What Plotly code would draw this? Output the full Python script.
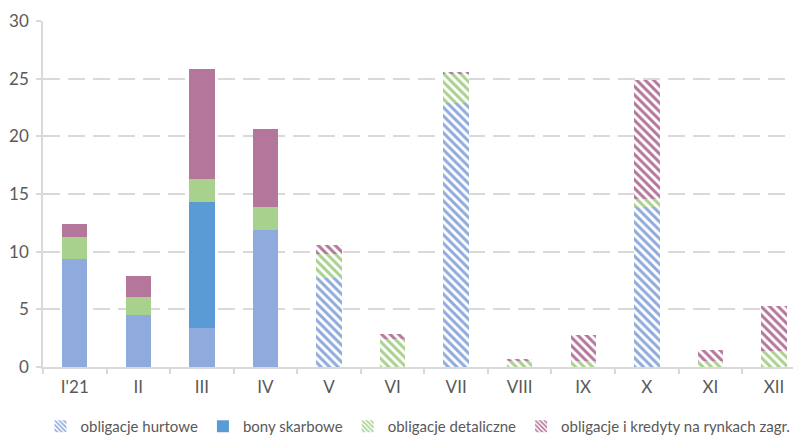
import plotly.graph_objects as go

months = ["I'21", "II", "III", "IV", "V", "VI", "VII", "VIII", "IX", "X", "XI", "XII"]
hurtowe = [9.35, 4.5, 3.4, 11.85, 7.7, 0, 22.9, 0, 0, 13.9, 0, 0]
bony = [0, 0, 10.95, 0, 0, 0, 0, 0, 0, 0, 0, 0]
detaliczne = [1.9, 1.6, 1.95, 2.0, 2.1, 2.4, 2.5, 0.55, 0.5, 0.7, 0.55, 1.4]
zagr = [1.15, 1.75, 9.5, 6.8, 0.8, 0.5, 0.2, 0.1, 2.3, 10.3, 0.95, 3.85]
forecast = [False, False, False, False, True, True, True, True, True, True, True, True]

series = [
    ("obligacje hurtowe", hurtowe, "#8FAADC", True),
    ("bony skarbowe", bony, "#5B9BD5", False),
    ("obligacje detaliczne", detaliczne, "#A9D18E", True),
    ("obligacje i kredyty na rynkach zagr.", zagr, "#B4769A", True),
]

shapes = ["\\" if f else "" for f in forecast]

fig = go.Figure()
for name, vals, col, hatch_legend in series:
    fig.add_trace(go.Bar(
        x=months, y=vals, name=name, showlegend=False,
        width=0.4,
        marker=dict(color=col, line=dict(width=0),
                    pattern=dict(shape=shapes, fgcolor=col, bgcolor="white",
                                 size=6, solidity=0.5, fillmode="replace")),
        hoverinfo="skip",
    ))
for name, vals, col, hatch_legend in series:
    fig.add_trace(go.Bar(
        x=[None], y=[None], name=name, showlegend=True,
        marker=dict(color=col, line=dict(width=0),
                    pattern=dict(shape="\\" if hatch_legend else "", fgcolor=col,
                                 bgcolor="white", size=4, solidity=0.5,
                                 fillmode="replace")),
    ))

fig.update_layout(
    barmode="stack",
    width=793, height=436,
    margin=dict(l=43, r=0, t=21, b=69, autoexpand=False),
    paper_bgcolor="white", plot_bgcolor="white",
    font=dict(family="Lato, Calibri, sans-serif", size=17, color="#595959"),
    legend=dict(orientation="h", x=0.5, xanchor="center",
                yref="container", y=0.022, yanchor="middle",
                font=dict(size=15, color="#595959"), itemwidth=30,
                traceorder="normal", tracegroupgap=0),
    xaxis=dict(
        range=[-0.5, 11.3], showgrid=False, showline=True, linecolor="#D9D9D9",
        linewidth=1.5, ticks="outside", tickson="boundaries", ticklen=5,
        tickcolor="#D9D9D9", tickwidth=1.5, zeroline=False, categoryorder="array",
        categoryarray=months, ticklabelstandoff=4,
    ),
    yaxis=dict(
        range=[0, 30], tickvals=[0, 5, 10, 15, 20, 25, 30], showgrid=True,
        gridcolor="#D9D9D9", gridwidth=1.5, griddash="17px,8px", showline=True,
        linecolor="#D9D9D9", linewidth=1.5, ticks="outside", ticklen=5,
        tickcolor="#D9D9D9", tickwidth=1.5, zeroline=False, ticklabelstandoff=4,
    ),
)

fig.write_html("out.html")
